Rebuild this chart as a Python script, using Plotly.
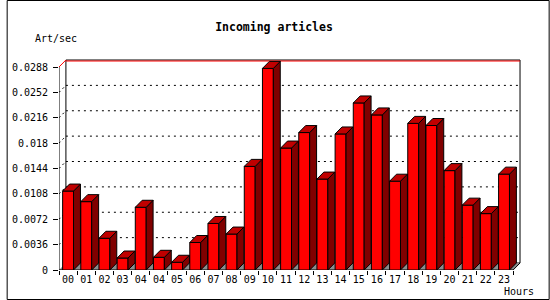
import plotly.graph_objects as go

# ---------------- data ----------------
hours = ["00", "01", "02", "03", "04", "04", "05", "06", "07", "08", "09", "10",
         "11", "12", "13", "14", "15", "16", "17", "18", "19", "20", "21", "22", "23"]
articles_per_sec = [0.0112, 0.0097, 0.0045, 0.0017, 0.0089, 0.0018, 0.0011, 0.0039,
                    0.0066, 0.0051, 0.0147, 0.0286, 0.0173, 0.0195, 0.0129, 0.0193,
                    0.0237, 0.0220, 0.0126, 0.0208, 0.0205, 0.0141, 0.0092, 0.0080, 0.0136]
y_ticks = [0, 0.0036, 0.0072, 0.0108, 0.0144, 0.018, 0.0216, 0.0252, 0.0288]
y_tick_labels = ["0", "0.0036", "0.0072", "0.0108", "0.0144", "0.018", "0.0216", "0.0252", "0.0288"]

# ---------------- geometry / style ----------------
W, H = 550, 300
pad = 2                                  # spare pixels so edge lines are not clipped
L, R, T, B = 53, 30 - pad, 60 - pad, 30
plot_w = W - L - R
plot_h = H - T - B
depth_px = 7
n = len(hours)
ymax = y_ticks[-1]
xpx = (plot_w - depth_px - pad) / n          # pixels per x unit
ypx = (plot_h - depth_px - pad) / ymax       # pixels per y unit
dxu = depth_px / xpx
dyu = depth_px / ypx
bw = 0.6

FONT = "DejaVu Sans Mono"
FRONT = "#ff0000"
TOP = "#c00000"
SIDE = "#800000"
FLOOR = "#8c8c8c"

xs = list(range(n))

side_x, side_y, top_x, top_y = [], [], [], []
for i, v in zip(xs, articles_per_sec):
    xl, xr = i - bw / 2, i + bw / 2
    side_x += [xr, xr + dxu, xr + dxu, xr, xr, None]
    side_y += [0, dyu, v + dyu, v, 0, None]
    top_x += [xl, xl + dxu, xr + dxu, xr, xl, None]
    top_y += [v, v + dyu, v + dyu, v, v, None]

fig = go.Figure()
fig.add_trace(go.Bar(x=xs, y=articles_per_sec, width=bw,
                     marker=dict(color=FRONT, line=dict(color="black", width=1)),
                     hoverinfo="skip"))
fig.add_trace(go.Scatter(x=side_x, y=side_y, mode="lines", fill="toself",
                         fillcolor=SIDE, line=dict(color="black", width=1),
                         hoverinfo="skip"))
fig.add_trace(go.Scatter(x=top_x, y=top_y, mode="lines", fill="toself",
                         fillcolor=TOP, line=dict(color="black", width=1),
                         hoverinfo="skip"))

shapes = []
x0f, x1f = -0.5, n - 0.5
# back wall
shapes.append(dict(type="rect", x0=x0f + dxu, x1=x1f + dxu, y0=dyu, y1=ymax + dyu,
                   fillcolor="white", line=dict(color="black", width=1), layer="below"))
# gridlines on back wall + diagonal connectors
for t in y_ticks[1:-1]:
    shapes.append(dict(type="line", x0=x0f + dxu, x1=x1f + dxu, y0=t + dyu, y1=t + dyu,
                       line=dict(color="black", width=1, dash="2px,4px"), layer="below"))
    shapes.append(dict(type="line", x0=x0f, x1=x0f + dxu, y0=t, y1=t + dyu,
                       line=dict(color="black", width=1, dash="2px,3px"), layer="below"))
# red top line
shapes.append(dict(type="line", x0=x0f, x1=x0f + dxu, y0=ymax, y1=ymax + dyu,
                   line=dict(color="red", width=1), layer="below"))
shapes.append(dict(type="line", x0=x0f + dxu, x1=x1f + dxu,
                   y0=ymax + dyu - 1.0 / ypx, y1=ymax + dyu - 1.0 / ypx,
                   line=dict(color="red", width=1), layer="below"))
# floor
shapes.append(dict(type="path",
                   path=f"M {x0f},0 L {x1f},0 L {x1f + dxu},{dyu} L {x0f + dxu},{dyu} Z",
                   fillcolor=FLOOR, line=dict(width=0), layer="below"))
# axis lines
shapes.append(dict(type="line", x0=x0f, x1=x0f, y0=0, y1=ymax,
                   line=dict(color="black", width=1), layer="below"))
shapes.append(dict(type="line", x0=x0f, x1=x1f, y0=0, y1=0,
                   line=dict(color="black", width=1), layer="below"))
shapes.append(dict(type="line", x0=x1f, x1=x1f + dxu, y0=0, y1=dyu,
                   line=dict(color="black", width=1), layer="below"))
# outer border
shapes.append(dict(type="rect", xref="paper", yref="paper",
                   x0=(0.5 - L) / plot_w, x1=(W - 0.5 - L) / plot_w,
                   y0=(T + plot_h - (H - 0.5)) / plot_h, y1=(T + plot_h - 0.5) / plot_h,
                   line=dict(color="black", width=1), fillcolor="rgba(0,0,0,0)"))

fig.update_layout(
    width=W, height=H,
    margin=dict(l=L, r=R, t=T, b=B),
    paper_bgcolor="white", plot_bgcolor="white",
    showlegend=False,
    shapes=shapes,
    title=dict(text="Incoming articles", x=274 / W, xref="container", xanchor="center",
               y=1 - 27 / H, yref="container", yanchor="middle",
               font=dict(family=FONT, size=11.5, color="black", weight="bold")),
    annotations=[
        dict(text="Art/sec", xref="paper", yref="paper",
             x=(50 - L) / plot_w, y=(T + plot_h - 38) / plot_h,
             showarrow=False, xanchor="center", yanchor="middle",
             font=dict(family=FONT, size=10, color="black")),
        dict(text="Hours", xref="paper", yref="paper",
             x=(519 - L) / plot_w, y=(T + plot_h - 291) / plot_h,
             showarrow=False, xanchor="center", yanchor="middle",
             font=dict(family=FONT, size=10, color="black")),
    ],
    xaxis=dict(range=[x0f, x1f + dxu + pad / xpx], tickmode="array", tickvals=xs,
               ticktext=hours, ticks="", showgrid=False, zeroline=False, showline=False,
               ticklabelstandoff=2,
               tickfont=dict(family=FONT, size=10, color="black"),
               minor=dict(tickmode="array", tickvals=[i - 0.5 for i in range(n + 1)],
                          ticks="outside", ticklen=4, tickcolor="black", tickwidth=1,
                          showgrid=False),
               fixedrange=True),
    yaxis=dict(range=[0, ymax + dyu + pad / ypx], tickmode="array", tickvals=y_ticks,
               ticktext=y_tick_labels, ticks="outside", ticklen=5, tickcolor="black",
               tickwidth=1, showgrid=False, zeroline=False, showline=False,
               ticklabelstandoff=3,
               tickfont=dict(family=FONT, size=10, color="black"),
               fixedrange=True),
)

fig.write_html("out.html")
